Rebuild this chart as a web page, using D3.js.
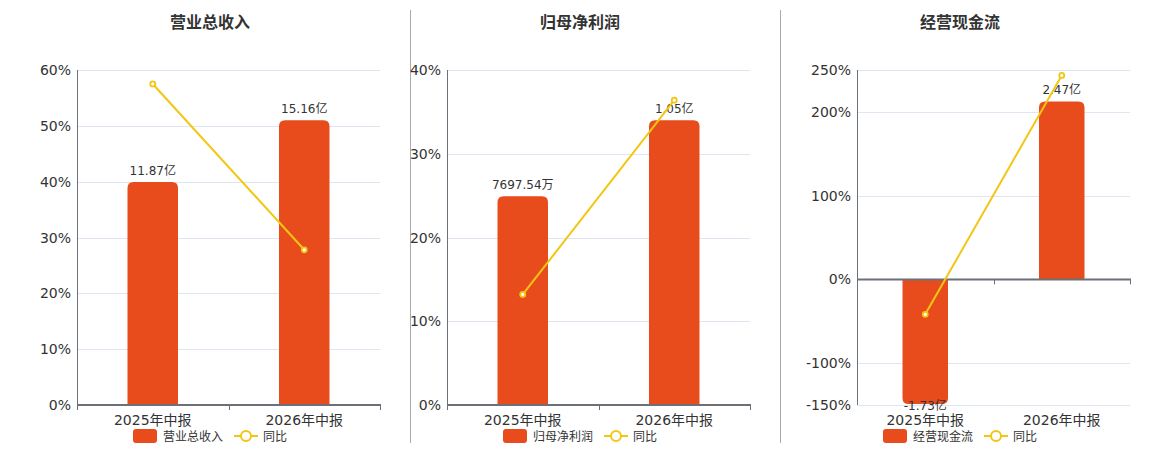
<!DOCTYPE html>
<html>
<head>
<meta charset="utf-8">
<script src="https://cdn.jsdelivr.net/npm/d3@7/dist/d3.min.js"></script>
<style>
  html, body { margin: 0; padding: 0; background: #fff; }
  svg { display: block; font-family: "DejaVu Sans", "Noto Sans CJK SC", sans-serif; }
</style>
</head>
<body>
<svg id="chart" width="1160" height="450"></svg>
<script>
// ---- data ----
const categories = ['2025年中报', '2026年中报'];

const titles = ['营业总收入', '归母净利润', '经营现金流'];
const yoyName = '同比';

const revenueValues = [11.87, 15.16];               // 亿
const revenueLabels = ['11.87亿', '15.16亿'];
const revenueYoY = [57.5, 27.8];                     // %
const revenueTicks = [0, 10, 20, 30, 40, 50, 60];

const profitValues = [0.769754, 1.05];              // 亿
const profitLabels = ['7697.54万', '1.05亿'];
const profitYoY = [13.2, 36.4];
const profitTicks = [0, 10, 20, 30, 40];

const cashValues = [-1.73, 2.47];                    // 亿
const cashLabels = ['-1.73亿', '2.47亿'];
const cashYoY = [-41.7, 243.5];
const cashTicks = [-150, -100, 0, 100, 200, 250];

// ---- layout / style ----
const BAR = '#e84c1d';
const LINE = '#f3c613';
const GRID = '#e0e6f1';
const AXIS = '#6e7079';
const TEXT = '#333';
const TOP = 70, BOTTOM = 405;

const panels = [
  { title: titles[0], values: revenueValues, labels: revenueLabels, yoy: revenueYoY, ticks: revenueTicks, x0: 77, x1: 380, cx: 210 },
  { title: titles[1], values: profitValues, labels: profitLabels, yoy: profitYoY, ticks: profitTicks, x0: 447, x1: 750, cx: 580 },
  { title: titles[2], values: cashValues, labels: cashLabels, yoy: cashYoY, ticks: cashTicks, x0: 857, x1: 1130, cx: 960 }
];

const svg = d3.select('#chart');

// dividers
[410.5, 780.5].forEach(x => {
  svg.append('line').attr('x1', x).attr('x2', x).attr('y1', 10).attr('y2', 443)
    .attr('stroke', '#aaa').attr('stroke-width', 1);
});

function barPath(x, w, y0, y1, r) {
  // rounded at the far end (y1) from zero (y0)
  const up = y1 < y0;
  const h = Math.abs(y1 - y0);
  r = Math.min(r, h, w / 2);
  if (up) {
    return `M${x},${y0}L${x},${y1 + r}Q${x},${y1} ${x + r},${y1}L${x + w - r},${y1}Q${x + w},${y1} ${x + w},${y1 + r}L${x + w},${y0}Z`;
  } else {
    return `M${x},${y0}L${x},${y1 - r}Q${x},${y1} ${x + r},${y1}L${x + w - r},${y1}Q${x + w},${y1} ${x + w},${y1 - r}L${x + w},${y0}Z`;
  }
}

panels.forEach(p => {
  const g = svg.append('g');
  const yMin = d3.min(p.ticks), yMax = d3.max(p.ticks);
  const y = d3.scaleLinear().domain([yMin, yMax]).range([BOTTOM, TOP]);
  const x = d3.scaleBand().domain(categories).range([p.x0, p.x1]).padding(0);
  const barMax = d3.max(p.values) / 0.85;
  const barMin = barMax * (yMin / yMax);
  const yb = d3.scaleLinear().domain([barMin, barMax]).range([BOTTOM, TOP]);
  const zeroY = y(0);

  // title
  g.append('text').attr('x', p.cx).attr('y', 28).attr('text-anchor', 'middle')
    .attr('font-size', 16).attr('font-weight', 'bold').attr('fill', TEXT).text(p.title);

  // grid
  g.selectAll('.grid').data(p.ticks.filter(t => t !== 0)).enter().append('line')
    .attr('x1', p.x0).attr('x2', p.x1)
    .attr('y1', d => Math.round(y(d)) + 0.5).attr('y2', d => Math.round(y(d)) + 0.5)
    .attr('stroke', GRID).attr('stroke-width', 1);

  // y tick labels
  g.selectAll('.ylab').data(p.ticks).enter().append('text')
    .attr('x', p.x0 - 6).attr('y', d => y(d)).attr('dy', '0.36em')
    .attr('text-anchor', 'end').attr('font-size', 14).attr('fill', TEXT)
    .text(d => d + '%');

  // bars
  const bw = x.bandwidth() / 3;
  g.selectAll('.bar').data(p.values).enter().append('path')
    .attr('d', (d, i) => barPath(x(categories[i]) + x.bandwidth() / 2 - bw / 2, bw, yb(0), yb(d), 6))
    .attr('fill', BAR);

  // y axis line
  g.append('line').attr('x1', p.x0 + 0.5).attr('x2', p.x0 + 0.5).attr('y1', TOP).attr('y2', BOTTOM)
    .attr('stroke', AXIS).attr('stroke-width', 1);

  // x axis at zero
  g.append('line').attr('x1', p.x0).attr('x2', p.x1 + 1).attr('y1', zeroY).attr('y2', zeroY)
    .attr('stroke', AXIS).attr('stroke-width', 2);
  const tickXs = categories.map(c => x(c)).concat([p.x1]);
  g.selectAll('.xtick').data(tickXs).enter().append('line')
    .attr('x1', d => Math.round(d) + 0.5).attr('x2', d => Math.round(d) + 0.5)
    .attr('y1', zeroY).attr('y2', zeroY + 5)
    .attr('stroke', AXIS).attr('stroke-width', 1);

  // x labels
  g.selectAll('.xlab').data(categories).enter().append('text')
    .attr('x', d => x(d) + x.bandwidth() / 2).attr('y', 425)
    .attr('text-anchor', 'middle').attr('font-size', 14).attr('fill', TEXT).text(d => d);

  // bar labels
  g.selectAll('.blab').data(p.values).enter().append('text')
    .attr('x', (d, i) => x(categories[i]) + x.bandwidth() / 2)
    .attr('y', d => d >= 0 ? yb(d) - 7 : yb(d) + 6)
    .attr('text-anchor', 'middle').attr('font-size', 12).attr('fill', TEXT)
    .text((d, i) => p.labels[i]);

  // line
  const line = d3.line().x((d, i) => x(categories[i]) + x.bandwidth() / 2).y(d => y(d));
  g.append('path').datum(p.yoy).attr('d', line).attr('fill', 'none')
    .attr('stroke', LINE).attr('stroke-width', 2);
  g.selectAll('.pt').data(p.yoy).enter().append('circle')
    .attr('cx', (d, i) => x(categories[i]) + x.bandwidth() / 2).attr('cy', d => y(d))
    .attr('r', 2.5).attr('fill', '#fff').attr('stroke', LINE).attr('stroke-width', 1.8);

  // legend
  const lg = g.append('g');
  lg.append('rect').attr('x', p.cx - 77).attr('y', 429).attr('width', 24).attr('height', 14)
    .attr('rx', 3).attr('fill', BAR);
  lg.append('text').attr('x', p.cx - 47).attr('y', 441).attr('font-size', 12).attr('fill', TEXT)
    .text(p.title);
  lg.append('line').attr('x1', p.cx + 24).attr('x2', p.cx + 48).attr('y1', 436).attr('y2', 436)
    .attr('stroke', LINE).attr('stroke-width', 2);
  lg.append('circle').attr('cx', p.cx + 36).attr('cy', 436).attr('r', 5)
    .attr('fill', '#fff').attr('stroke', LINE).attr('stroke-width', 2);
  lg.append('text').attr('x', p.cx + 53).attr('y', 441).attr('font-size', 12).attr('fill', TEXT)
    .text(yoyName);
});
</script>
</body>
</html>
